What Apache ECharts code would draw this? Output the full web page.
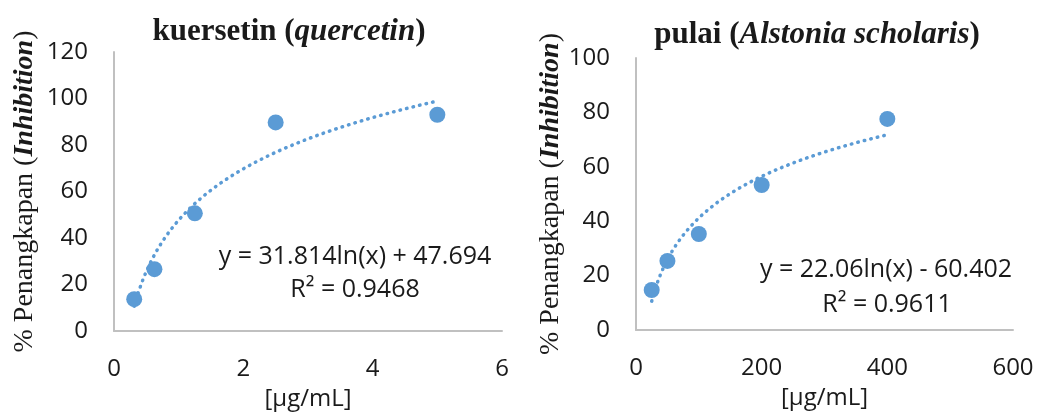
<!DOCTYPE html>
<html><head><meta charset="utf-8">
<script src="https://cdn.jsdelivr.net/npm/echarts@6/dist/echarts.min.js"></script>
<style>html,body{margin:0;padding:0;background:#fff}#c{width:1037px;height:412px}</style>
</head><body><div id="c"></div>
<script>
// Left panel: kuersetin (quercetin)
const leftX = [0.3125, 0.625, 1.25, 2.5, 5];
const leftY = [13.7, 26.6, 50.6, 89.7, 93.0];
const leftFit = [31.814, 47.694];          // y = a ln(x) + b
const leftR2 = '0.9468';
const leftXTicks = [0, 2, 4, 6];
const leftYTicks = [0, 20, 40, 60, 80, 100, 120];

// Right panel: pulai (Alstonia scholaris)
const rightX = [25, 50, 100, 200, 400];
const rightY = [14.7, 25.4, 35.3, 53.3, 77.6];
const rightFit = [22.06, -60.402];
const rightR2 = '0.9611';
const rightXTicks = [0, 200, 400, 600];
const rightYTicks = [0, 20, 40, 60, 80, 100];

function trend(xs, fit) {
  const lo = Math.min(...xs), hi = Math.max(...xs), n = 80, out = [];
  for (let i = 0; i <= n; i++) {
    const x = lo + (hi - lo) * i / n;
    out.push([x, fit[0] * Math.log(x) + fit[1]]);
  }
  return out;
}
function eqText(fit) {
  const b = fit[1];
  return 'y = ' + fit[0] + 'ln(x) ' + (b < 0 ? '- ' : '+ ') + Math.abs(b);
}

const BLUE = '#5b9bd5';
const SERIF = '"Liberation Serif", "DejaVu Serif", serif';
const SANS = '"Open Sans", "Noto Sans", sans-serif';

function xAxis(gi, ticks) {
  return {
    gridIndex: gi, type: 'value', min: ticks[0], max: ticks[ticks.length - 1],
    interval: ticks[1] - ticks[0],
    axisLine: {show: true, lineStyle: {color: '#c0c0c0', width: 2}},
    axisTick: {show: false}, splitLine: {show: false},
    axisLabel: {margin: 26, fontFamily: SANS, fontSize: 24, color: '#1a1a1a'},
    name: '[μg/mL]', nameLocation: 'middle', nameGap: 56,
    nameTextStyle: {fontFamily: SANS, fontSize: 24, color: '#1a1a1a'}
  };
}
function yAxis(gi, ticks, gap) {
  return {
    gridIndex: gi, type: 'value', min: ticks[0], max: ticks[ticks.length - 1],
    interval: ticks[1] - ticks[0],
    axisLine: {show: true, lineStyle: {color: '#c0c0c0', width: 2}},
    axisTick: {show: false}, splitLine: {show: false},
    axisLabel: {margin: 26, fontFamily: SANS, fontSize: 24, color: '#1a1a1a'},
    name: '{r|% Penangkapan (}{bi|Inhibition}{r|)}', nameLocation: 'middle', nameRotate: 90, nameGap: gap,
    nameTextStyle: {
      rich: {
        r: {fontFamily: SERIF, fontSize: 28, color: '#1a1a1a'},
        bi: {fontFamily: SERIF, fontSize: 28, fontWeight: 'bold', fontStyle: 'italic', color: '#1a1a1a'}
      }
    }
  };
}
function titleRich() {
  return {
    b: {fontFamily: SERIF, fontSize: 31, fontWeight: 'bold', color: '#1a1a1a'},
    bi: {fontFamily: SERIF, fontSize: 31, fontWeight: 'bold', fontStyle: 'italic', color: '#1a1a1a'}
  };
}

const chart = echarts.init(document.getElementById('c'), null, {renderer: 'canvas'});
chart.setOption({
  animation: false,
  backgroundColor: '#fff',
  title: [
    {text: '{b|kuersetin (}{bi|quercetin}{b|)}', left: 284, top: 11, textAlign: 'center', textStyle: {rich: titleRich()}},
    {text: '{b|pulai (}{bi|Alstonia scholaris}{b|)}', left: 812, top: 14, textAlign: 'center', textStyle: {rich: titleRich()}}
  ],
  grid: [
    {left: 114, top: 52, width: 388, height: 279, containLabel: false, outerBoundsMode: 'none'},
    {left: 636, top: 58, width: 377, height: 272, containLabel: false, outerBoundsMode: 'none'}
  ],
  xAxis: [xAxis(0, leftXTicks), xAxis(1, rightXTicks)],
  yAxis: [yAxis(0, leftYTicks, 75), yAxis(1, rightYTicks, 69)],
  series: [
    {type: 'line', xAxisIndex: 0, yAxisIndex: 0, data: trend(leftX, leftFit), showSymbol: false, smooth: false,
     lineStyle: {color: BLUE, width: 3.5, type: [0.5, 6.2], cap: 'round'}, z: 1},
    {type: 'scatter', xAxisIndex: 0, yAxisIndex: 0, data: leftX.map((x, i) => [x, leftY[i]]),
     symbolSize: 16, itemStyle: {color: BLUE, opacity: 1}, z: 2},
    {type: 'line', xAxisIndex: 1, yAxisIndex: 1, data: trend(rightX, rightFit), showSymbol: false, smooth: false,
     lineStyle: {color: BLUE, width: 3.5, type: [0.5, 6.2], cap: 'round'}, z: 1},
    {type: 'scatter', xAxisIndex: 1, yAxisIndex: 1, data: rightX.map((x, i) => [x, rightY[i]]),
     symbolSize: 16, itemStyle: {color: BLUE, opacity: 1}, z: 2}
  ],
  graphic: [
    {type: 'text', x: 355, y: 257, style: {text: eqText(leftFit), fontFamily: SANS, fontSize: 25, fill: '#1a1a1a', align: 'center', verticalAlign: 'middle'}},
    {type: 'text', x: 355, y: 290, style: {text: 'R² = ' + leftR2, fontFamily: SANS, fontSize: 25, fill: '#1a1a1a', align: 'center', verticalAlign: 'middle'}},
    {type: 'text', x: 886, y: 270, style: {text: eqText(rightFit), fontFamily: SANS, fontSize: 25, fill: '#1a1a1a', align: 'center', verticalAlign: 'middle'}},
    {type: 'text', x: 887, y: 305, style: {text: 'R² = ' + rightR2, fontFamily: SANS, fontSize: 25, fill: '#1a1a1a', align: 'center', verticalAlign: 'middle'}}
  ]
});
</script></body></html>
